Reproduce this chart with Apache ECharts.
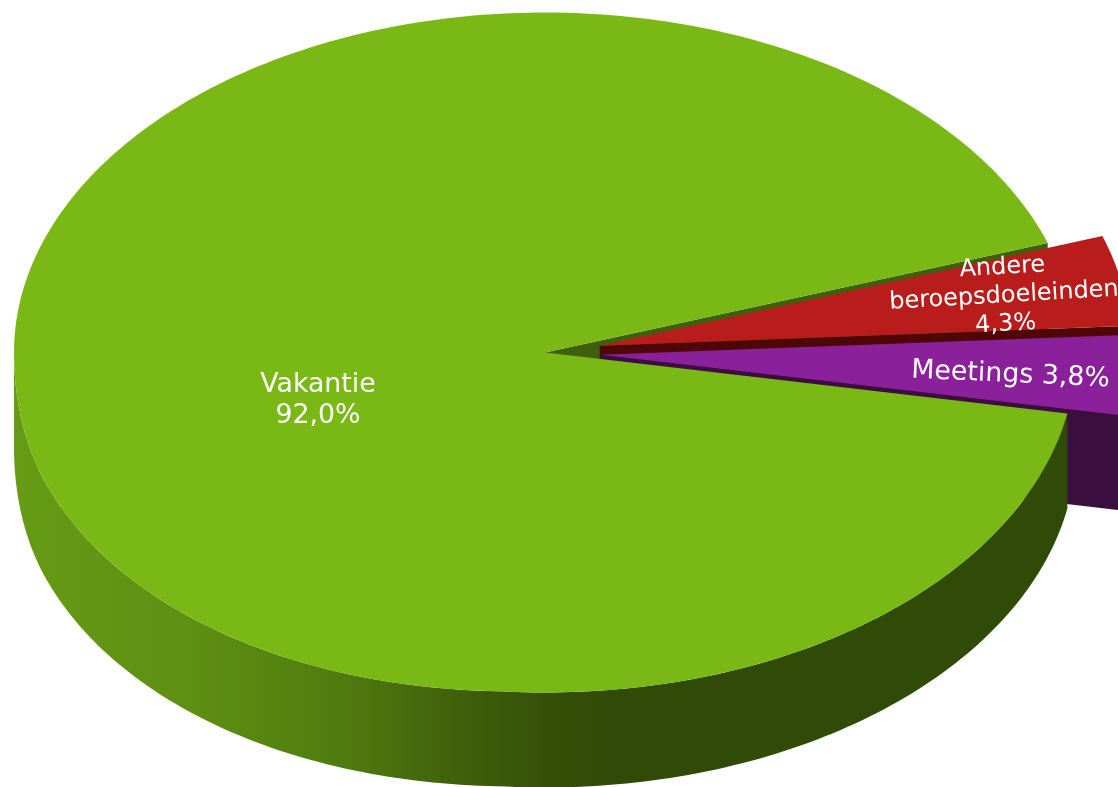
<!DOCTYPE html>
<html>
<head>
<meta charset="utf-8">
<style>html,body{margin:0;padding:0;background:#fff;overflow:hidden}#c{width:1118px;height:787px}</style>
<script src="https://cdn.jsdelivr.net/npm/echarts@6/dist/echarts.min.js"></script>
</head>
<body>
<div id="c"></div>
<script>
// Data, in drawing order
var categories = ['Andere\nberoepsdoeleinden', 'Meetings', 'Vakantie'];
var percentages = [4.3, 3.8, 92.0];

// Look of the chart
var topColors = ['#b91d1b', '#8b209b', '#7ab915'];
var cutColors = ['#4f0606', '#3a0f40', '#3f5f0c'];
var labelJoin = ['\n', ' ', '\n'];
var labelPlaces = [[1004, 296, 3.3], [1010.5, 375, -2.5], [318, 401, 0]];
var labelSizes = [24, 26.8, 26.8];
var labelLeading = [28.5, 30, 31];
var pie = {cx: 545, cy: 352.5, rx: 531, ry: 340, depth: 95, explode: 0.105, startAngle: -18.8};
var exploded = [true, true, false];

var chart = echarts.init(document.getElementById('c'), null, {renderer: 'canvas'});
var total = percentages.reduce(function (a, b) { return a + b; }, 0);
var rad = Math.PI / 180;

// the source drawing bulges slightly on its lower-left rim
function rimBulge(t) {
  if (t > 95 && t <= 160) return 15 * Math.sin(Math.PI / 2 * (t - 95) / 65);
  if (t > 160 && t < 180) return 15 * Math.cos(Math.PI / 2 * (t - 160) / 20);
  return 0;
}
function pt(c, t, r, drop) {
  return [
    c[0] + r * pie.rx * Math.cos(t * rad),
    c[1] + r * pie.ry * Math.sin(t * rad) + (drop || 0) + (r === 1 ? rimBulge(t) : 0)
  ];
}
function arc(c, a, b, drop) {
  var out = [], n = Math.max(2, Math.ceil(Math.abs(b - a)));
  for (var i = 0; i <= n; i++) out.push(pt(c, a + (b - a) * i / n, 1, drop));
  return out;
}
var wallGradient = new echarts.graphic.LinearGradient(14, 0, 620, 0, [
  {offset: 0, color: '#669b15'},
  {offset: 0.307, color: '#5d8f12'},
  {offset: 0.554, color: '#4f7a0f'},
  {offset: 0.604, color: '#4a720d'},
  {offset: 0.769, color: '#3c5c0a'},
  {offset: 0.9, color: '#344f08'},
  {offset: 1, color: '#304a08'}
], true);

function renderItem(params, api) {
  var i = params.dataIndex;
  var before = 0;
  for (var k = 0; k < i; k++) before += percentages[k];
  var value = api.value(0);
  var t0 = pie.startAngle + before / total * 360;
  var t1 = t0 + value / total * 360;
  var mid = (t0 + t1) / 2;
  var c = [pie.cx, pie.cy];
  if (exploded[i]) c = pt(c, mid, pie.explode);
  var kids = [];
  var isMain = i === 2;
  var wallColor = isMain ? wallGradient : cutColors[i];

  // cut face under the closing edge of the slice
  var endEdge = pt(c, t1, 1);
  kids.push({
    type: 'polygon', z2: isMain ? -1 : i * 2,
    shape: {points: [c, endEdge, [endEdge[0], endEdge[1] + pie.depth], [c[0], c[1] + pie.depth]]},
    style: {fill: cutColors[i]}
  });
  // outer rim: only the front half of the ellipse shows
  var a = Math.max(t0, 0), b = Math.min(t1, 180);
  if (b > a) {
    kids.push({
      type: 'polygon', z2: i * 2,
      shape: {points: arc(c, a, b, 0).concat(arc(c, b, a, pie.depth))},
      style: {fill: wallColor}
    });
  }
  // top face
  kids.push({
    type: 'polygon', z2: i * 2 + 1,
    shape: {points: [c].concat(arc(c, t0, t1, 0))},
    style: {fill: topColors[i]}
  });
  // label
  var place = labelPlaces[i];
  kids.push({
    type: 'text', z2: 20,
    x: place[0], y: place[1], rotation: place[2] * rad,
    style: {
      text: categories[i] + labelJoin[i] + value.toFixed(1).replace('.', ',') + '%',
      fill: '#ffffff', align: 'center', verticalAlign: 'middle',
      font: labelSizes[i] + 'px "DejaVu Sans"', lineHeight: labelLeading[i]
    }
  });
  return {type: 'group', children: kids};
}

chart.setOption({
  animation: false,
  backgroundColor: '#ffffff',
  series: [{
    type: 'custom',
    coordinateSystem: 'none',
    renderItem: renderItem,
    silent: true,
    data: percentages.map(function (v) { return [v]; })
  }]
});
</script>
</body>
</html>
